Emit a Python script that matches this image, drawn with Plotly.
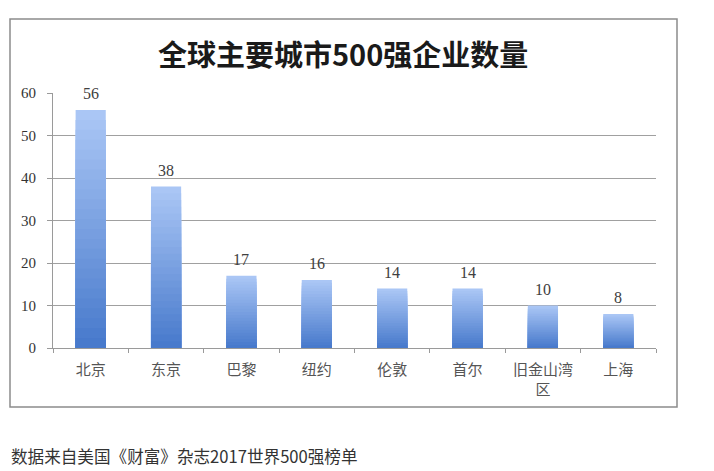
import plotly.graph_objects as go

# ---- data ----
cities = ["北京", "东京", "巴黎", "纽约", "伦敦", "首尔", "旧金山湾<br>区", "上海"]
counts = [56, 38, 17, 16, 14, 14, 10, 8]
y_ticks = [0, 10, 20, 30, 40, 50, 60]
title_text = "全球主要城市500强企业数量"
source_text = "数据来自美国《财富》杂志2017世界500强榜单"

W, H = 714, 471
L, R, T, B = 53, 58, 93, 123
pw, ph = W - L - R, H - T - B

top_rgb = (170, 198, 245)
bot_rgb = (72, 122, 204)
steps = 24

fig = go.Figure()
# gradient: overlay bars of decreasing fractional height, darker toward bottom
for k in range(steps):
    frac = 1 - k / steps
    t = k / (steps - 1)
    c = tuple(round(top_rgb[i] + (bot_rgb[i] - top_rgb[i]) * t) for i in range(3))
    fig.add_trace(go.Bar(
        x=cities, y=[v * frac for v in counts],
        width=0.4,
        marker=dict(color="rgb(%d,%d,%d)" % c, line=dict(width=0)),
        hoverinfo="skip", showlegend=False,
    ))

for c, v in zip(cities, counts):
    fig.add_annotation(x=c, y=v, text=str(v), showarrow=False, yanchor="bottom",
                       yshift=6, font=dict(family="Liberation Serif, serif", size=16, color="#404040"))

def px(xp):
    return (xp - L) / pw

def py(yp):
    return (H - B - yp) / ph

fig.add_shape(type="rect", xref="paper", yref="paper",
              x0=px(10), x1=px(677), y0=py(407), y1=py(19),
              line=dict(color="#8c8c8c", width=1.5), layer="below")

fig.add_annotation(xref="paper", yref="paper", x=px(343), y=py(53), text="<b>" + title_text + "</b>",
                   showarrow=False, xanchor="center", yanchor="middle",
                   font=dict(family="Noto Sans CJK SC", size=29, color="#1a1a1a"))
fig.add_annotation(xref="paper", yref="paper", x=px(9), y=py(456), text=source_text,
                   showarrow=False, xanchor="left", yanchor="middle",
                   font=dict(family="Noto Sans CJK SC", size=16.6, color="#333333"))

fig.update_layout(
    width=W, height=H,
    margin=dict(l=L, r=R, t=T, b=B),
    paper_bgcolor="white", plot_bgcolor="white",
    barmode="overlay", bargap=0.6,
    showlegend=False,
    xaxis=dict(
        showgrid=False, showline=True, linecolor="#9a9a9a", linewidth=1.2,
        ticks="outside", ticklen=4, tickcolor="#9a9a9a", tickson="boundaries",
        ticklabelstandoff=8,
        tickfont=dict(family="Liberation Serif, Noto Sans CJK SC", size=15, color="#555555"),
        fixedrange=True,
    ),
    yaxis=dict(
        range=[0, 60], tickvals=y_ticks, showgrid=True, gridcolor="#a0a0a0", gridwidth=1.2,
        showline=True, linecolor="#9a9a9a", linewidth=1.2, ticks="outside", ticklen=5,
        tickcolor="#9a9a9a", zeroline=False, ticklabelstandoff=8,
        tickfont=dict(family="Liberation Serif, serif", size=15, color="#333333"),
        fixedrange=True,
    ),
)

fig.write_html("out.html")
